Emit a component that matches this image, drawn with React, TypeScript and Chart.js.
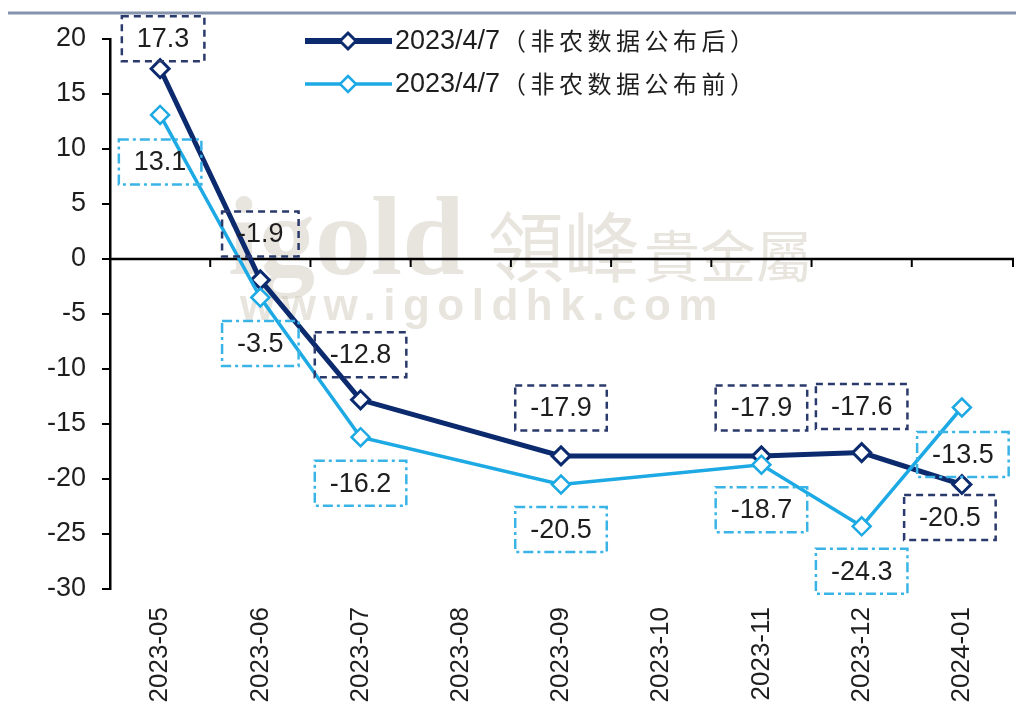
import React, { useEffect, useRef } from "react";
import { Chart, registerables } from "chart.js";

Chart.register(...registerables);

const categories = ["2023-05", "2023-06", "2023-07", "2023-08", "2023-09", "2023-10", "2023-11", "2023-12", "2024-01"];
const afterValues = [17.3, -1.9, -12.8, null, -17.9, null, -17.9, -17.6, -20.5];
const beforeValues = [13.1, -3.5, -16.2, null, -20.5, null, -18.7, -24.3, -13.5];
const seriesNames = ["2023/4/7", "2023/4/7"];
const seriesNotes = ["（非农数据公布后）", "（非农数据公布前）"];
const yMin = -30;
const yMax = 20;
const yStep = 5;

// label box placement (pixel shifts from each point)
const afterLabelDx = [3, 0, 0, 0, 0, 0, 0, 0, -12];
const afterLabelDy = [-30, -46, -45, 0, -48, 0, -48, -46, 33];
const beforeLabelDx = [0, 0, 0, 0, 0, 0, 0, 0, 1];
const beforeLabelDy = [47, 46, 46, 0, 45, 0, 45, 45, 47];

const DARK = "#0c2a6e";
const LIGHT = "#1da9e4";
const NUM_FONT = '"Liberation Sans", Arial, sans-serif';
const CJK_FONT = '"Noto Sans CJK SC", sans-serif';

const boxLabelPlugin = {
  id: "boxLabels",
  afterDatasetsDraw(chart: any) {
    const ctx = chart.ctx;
    chart.data.datasets.forEach((ds: any, di: number) => {
      const meta = chart.getDatasetMeta(di);
      meta.data.forEach((pt: any, i: number) => {
        const v = ds.data[i];
        if (v === null || v === undefined) return;
        const cx = pt.x + ds.labelDx[i];
        const cy = pt.y + ds.labelDy[i];
        const text = v.toFixed(1);
        ctx.save();
        ctx.font = `27px ${NUM_FONT}`;
        const w = ctx.measureText(text).width + 30;
        const h = 45;
        ctx.strokeStyle = ds.boxColor;
        ctx.lineWidth = 2.5;
        ctx.setLineDash(ds.boxDash);
        ctx.strokeRect(cx - w / 2, cy - h / 2, w, h);
        ctx.setLineDash([]);
        ctx.fillStyle = "#1e1e1e";
        ctx.textAlign = "center";
        ctx.textBaseline = "middle";
        ctx.fillText(text, cx, cy + 1);
        ctx.restore();
      });
    });
  },
};

const axisPlugin = {
  id: "zeroAxis",
  beforeDatasetsDraw(chart: any) {
    const ctx = chart.ctx;
    const x = chart.scales.x;
    const y = chart.scales.y;
    const area = chart.chartArea;
    // watermark
    ctx.save();
    ctx.fillStyle = "rgba(200,194,178,0.42)";
    ctx.textBaseline = "alphabetic";
    ctx.font = 'bold 112px "Liberation Serif", serif';
    ctx.fillText("igold", 228, 274);
    ctx.font = `76px ${CJK_FONT}`;
    ctx.fillText("領峰", 488, 276);
    ctx.font = `56px ${CJK_FONT}`;
    ctx.fillText("貴金屬", 644, 277);
    ctx.font = 'bold 44px "Liberation Sans", sans-serif';
    (ctx as any).letterSpacing = "7.5px";
    ctx.fillText("www.igoldhk.com", 240, 320);
    ctx.restore();

    const y0 = y.getPixelForValue(0);
    ctx.save();
    ctx.strokeStyle = "#000";
    ctx.lineWidth = 2.5;
    ctx.beginPath();
    ctx.moveTo(area.left, y0);
    ctx.lineTo(area.right + 2, y0);
    ctx.stroke();
    ctx.lineWidth = 2;
    for (let i = 0; i < categories.length; i++) {
      const px = i < categories.length - 1 ? (x.getPixelForValue(i) + x.getPixelForValue(i + 1)) / 2 : area.right + 1;
      ctx.beginPath();
      ctx.moveTo(px, y0);
      ctx.lineTo(px, y0 + 8);
      ctx.stroke();
    }
    ctx.restore();
  },
  afterDraw(chart: any) {
    const ctx = chart.ctx;
    ctx.save();
    // top rule
    ctx.strokeStyle = "#8593ad";
    ctx.lineWidth = 3;
    ctx.beginPath();
    ctx.moveTo(8, 13);
    ctx.lineTo(1016, 13);
    ctx.stroke();
    // legend
    const rows = [
      { color: DARK, width: 6, y: 41, idx: 0 },
      { color: LIGHT, width: 3.5, y: 84, idx: 1 },
    ];
    rows.forEach((r) => {
      ctx.strokeStyle = r.color;
      ctx.lineWidth = r.width;
      ctx.beginPath();
      ctx.moveTo(305, r.y);
      ctx.lineTo(392, r.y);
      ctx.stroke();
      ctx.fillStyle = "#fff";
      ctx.lineWidth = r.idx === 0 ? 3 : 2.5;
      ctx.beginPath();
      ctx.moveTo(348, r.y - 8);
      ctx.lineTo(356, r.y);
      ctx.lineTo(348, r.y + 8);
      ctx.lineTo(340, r.y);
      ctx.closePath();
      ctx.fill();
      ctx.stroke();
      ctx.fillStyle = "#1e1e1e";
      ctx.textBaseline = "middle";
      ctx.textAlign = "left";
      ctx.font = `27px ${NUM_FONT}`;
      ctx.fillText(seriesNames[r.idx], 395, r.y + 1);
      const w = ctx.measureText(seriesNames[r.idx]).width;
      ctx.font = `24px ${CJK_FONT}`;
      (ctx as any).letterSpacing = "4.5px";
      ctx.fillText(seriesNotes[r.idx], 395 + w + 2, r.y);
      (ctx as any).letterSpacing = "0px";
    });
    ctx.restore();
  },
};

export default function App() {
  const ref = useRef<HTMLCanvasElement | null>(null);
  useEffect(() => {
    if (!ref.current) return;
    const chart = new Chart(ref.current, {
      type: "line",
      data: {
        labels: categories,
        datasets: [
          {
            label: seriesNames[1] + seriesNotes[1],
            data: beforeValues,
            borderColor: LIGHT,
            borderWidth: 3.5,
            pointStyle: "rectRot",
            pointRadius: 9,
            pointBorderWidth: 2.5,
            pointBackgroundColor: "#fff",
            pointBorderColor: LIGHT,
            spanGaps: true,
            tension: 0,
            labelDx: beforeLabelDx,
            labelDy: beforeLabelDy,
            boxColor: "#3ab4e6",
            boxDash: [10, 4, 3, 4],
          } as any,
          {
            label: seriesNames[0] + seriesNotes[0],
            data: afterValues,
            borderColor: DARK,
            borderWidth: 5,
            pointStyle: "rectRot",
            pointRadius: 9,
            pointBorderWidth: 3,
            pointBackgroundColor: "#fff",
            pointBorderColor: DARK,
            spanGaps: true,
            tension: 0,
            labelDx: afterLabelDx,
            labelDy: afterLabelDy,
            boxColor: "#2b3a6c",
            boxDash: [7, 5],
          } as any,
        ],
      },
      options: {
        responsive: false,
        animation: false,
        layout: { padding: { top: 39, right: 11, left: 0, bottom: 0 } },
        plugins: { legend: { display: false }, tooltip: { enabled: false } },
        scales: {
          x: {
            offset: true,
            grid: { display: false },
            border: { display: false },
            ticks: {
              minRotation: 90,
              maxRotation: 90,
              padding: 10,
              color: "#1e1e1e",
              font: { family: NUM_FONT, size: 26 },
            },
            afterFit(scale: any) {
              scale.height = 125;
            },
          },
          y: {
            min: yMin,
            max: yMax,
            ticks: {
              stepSize: yStep,
              padding: 16,
              color: "#1e1e1e",
              font: { family: NUM_FONT, size: 27 },
            },
            grid: { drawOnChartArea: false, drawTicks: true, tickLength: 8, color: "#000", lineWidth: 2 },
            border: { color: "#000", width: 2.5 },
            afterFit(scale: any) {
              scale.width = 110;
            },
          },
        },
      },
      plugins: [axisPlugin, boxLabelPlugin],
    });
    return () => chart.destroy();
  }, []);
  return (
    <div style={{ position: "absolute", left: 0, top: 0, width: 1024, height: 714, background: "#fff" }}>
      <canvas ref={ref} width={1024} height={714} style={{ display: "block" }} />
    </div>
  );
}
